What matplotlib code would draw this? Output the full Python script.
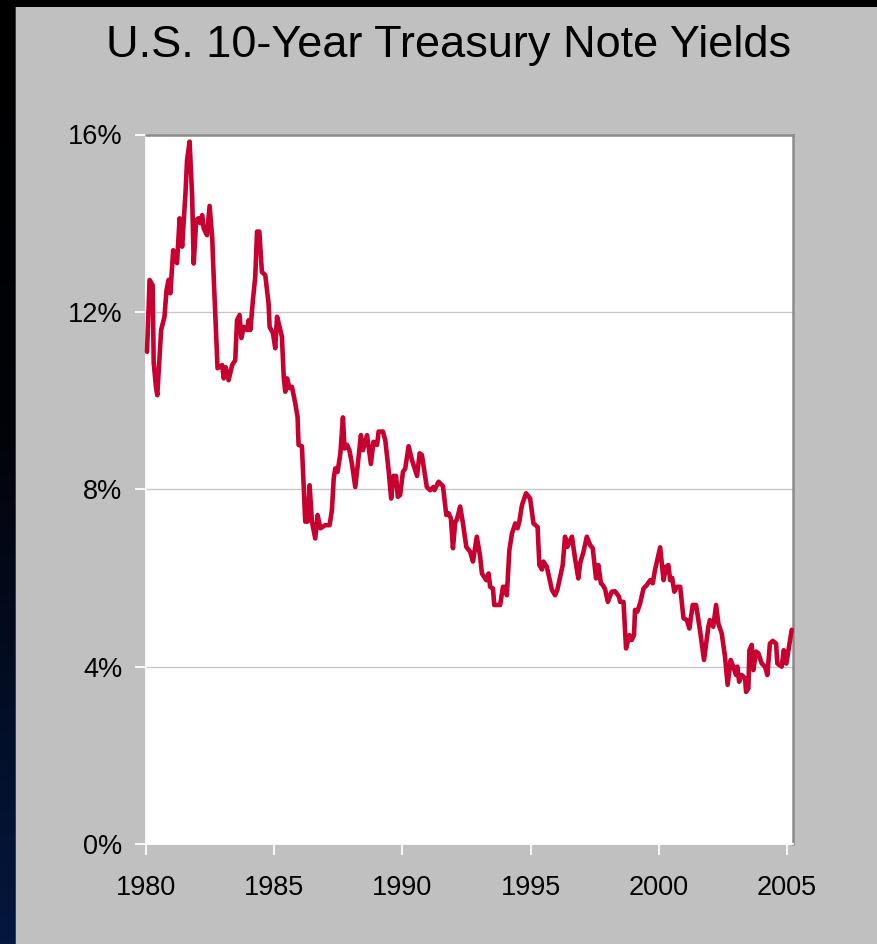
import numpy as np
import matplotlib
matplotlib.use("Agg")
import matplotlib.pyplot as plt
from matplotlib.patches import Rectangle
from matplotlib.colors import LinearSegmentedColormap
from matplotlib.ticker import FuncFormatter

plt.rcParams['font.family'] = ['Liberation Sans', 'DejaVu Sans']

TITLE = "U.S. 10-Year Treasury Note Yields"

# Weekly-ish 10-year note yields (decimal year, percent)
years = [
    1980.04, 1980.14, 1980.26, 1980.30, 1980.39, 1980.44, 1980.59, 1980.72, 1980.80, 1980.88,
    1980.95, 1981.06, 1981.21, 1981.31, 1981.41, 1981.54, 1981.60, 1981.70, 1981.80, 1981.86,
    1981.96, 1982.05, 1982.12, 1982.19, 1982.25, 1982.38, 1982.48, 1982.58, 1982.64, 1982.79,
    1982.97, 1983.03, 1983.11, 1983.22, 1983.36, 1983.48, 1983.55, 1983.65, 1983.72, 1983.81,
    1983.94, 1984.00, 1984.07, 1984.17, 1984.26, 1984.33, 1984.42, 1984.52, 1984.65, 1984.78,
    1984.82, 1984.95, 1985.04, 1985.11, 1985.21, 1985.30, 1985.37, 1985.43, 1985.50, 1985.60,
    1985.69, 1985.82, 1985.91, 1985.95, 1986.08, 1986.21, 1986.30, 1986.38, 1986.47, 1986.60,
    1986.69, 1986.80, 1986.99, 1987.16, 1987.25, 1987.32, 1987.38, 1987.47, 1987.58, 1987.68,
    1987.74, 1987.84, 1987.93, 1988.03, 1988.16, 1988.25, 1988.38, 1988.46, 1988.62, 1988.77,
    1988.87, 1989.01, 1989.07, 1989.24, 1989.33, 1989.46, 1989.56, 1989.65, 1989.75, 1989.82,
    1989.91, 1990.02, 1990.11, 1990.24, 1990.37, 1990.57, 1990.67, 1990.76, 1990.95, 1991.08,
    1991.21, 1991.25, 1991.41, 1991.58, 1991.71, 1991.80, 1991.89, 1991.97, 1992.06, 1992.12,
    1992.25, 1992.36, 1992.49, 1992.64, 1992.75, 1992.90, 1993.03, 1993.10, 1993.27, 1993.36,
    1993.42, 1993.53, 1993.58, 1993.81, 1993.92, 1994.01, 1994.07, 1994.17, 1994.27, 1994.40,
    1994.49, 1994.56, 1994.66, 1994.82, 1994.98, 1995.11, 1995.27, 1995.34, 1995.44, 1995.50,
    1995.63, 1995.83, 1995.95, 1996.04, 1996.25, 1996.34, 1996.43, 1996.54, 1996.61, 1996.73,
    1996.86, 1996.93, 1997.06, 1997.19, 1997.32, 1997.42, 1997.55, 1997.64, 1997.74, 1997.81,
    1997.90, 1998.01, 1998.16, 1998.29, 1998.44, 1998.49, 1998.62, 1998.72, 1998.85, 1998.94,
    1999.03, 1999.07, 1999.16, 1999.27, 1999.40, 1999.53, 1999.66, 1999.76, 1999.85, 2000.05,
    2000.18, 2000.28, 2000.37, 2000.44, 2000.52, 2000.60, 2000.70, 2000.83, 2000.96, 2001.09,
    2001.19, 2001.32, 2001.45, 2001.60, 2001.76, 2001.93, 2001.99, 2002.12, 2002.23, 2002.32,
    2002.45, 2002.58, 2002.68, 2002.80, 2002.90, 2003.01, 2003.06, 2003.13, 2003.23, 2003.36,
    2003.40, 2003.49, 2003.53, 2003.62, 2003.68, 2003.79, 2003.88, 2004.01, 2004.14, 2004.23,
    2004.33, 2004.44, 2004.57, 2004.62, 2004.79, 2004.87, 2004.97, 2005.18,
]
yields = [
    11.10, 12.72, 12.60, 10.85, 10.30, 10.12, 11.59, 11.89, 12.49, 12.72,
    12.42, 13.39, 13.10, 14.11, 13.47, 14.68, 15.42, 15.84, 14.60, 13.09,
    14.07, 14.11, 14.00, 14.18, 13.88, 13.73, 14.39, 13.69, 12.79, 10.73,
    10.80, 10.50, 10.75, 10.46, 10.80, 10.91, 11.81, 11.93, 11.41, 11.66,
    11.59, 11.81, 11.59, 12.27, 12.79, 13.81, 13.81, 12.90, 12.83, 12.19,
    11.66, 11.52, 11.18, 11.89, 11.66, 11.44, 10.54, 10.20, 10.50, 10.28,
    10.31, 9.94, 9.63, 9.00, 8.97, 7.27, 7.27, 8.09, 7.27, 6.89,
    7.42, 7.12, 7.19, 7.19, 7.53, 8.24, 8.47, 8.39, 8.81, 9.62,
    8.92, 9.00, 8.88, 8.58, 8.05, 8.51, 9.22, 8.88, 9.22, 8.57,
    9.07, 9.00, 9.30, 9.30, 9.11, 8.43, 7.79, 8.30, 8.30, 7.83,
    7.87, 8.39, 8.47, 8.97, 8.66, 8.30, 8.81, 8.77, 8.05, 7.98,
    8.05, 7.98, 8.17, 8.07, 7.42, 7.46, 7.34, 6.67, 7.27, 7.31,
    7.61, 7.23, 6.70, 6.59, 6.37, 6.93, 6.48, 6.10, 5.95, 6.10,
    5.80, 5.76, 5.39, 5.39, 5.80, 5.80, 5.61, 6.63, 7.00, 7.23,
    7.12, 7.27, 7.64, 7.91, 7.79, 7.23, 7.15, 6.29, 6.19, 6.37,
    6.25, 5.73, 5.61, 5.73, 6.29, 6.93, 6.70, 6.85, 6.93, 6.44,
    5.99, 6.33, 6.59, 6.93, 6.74, 6.67, 5.99, 6.29, 5.88, 5.84,
    5.75, 5.46, 5.69, 5.70, 5.58, 5.46, 5.46, 4.41, 4.71, 4.60,
    4.71, 5.28, 5.24, 5.43, 5.76, 5.84, 5.95, 5.88, 6.18, 6.69,
    5.95, 6.25, 6.29, 5.95, 6.00, 5.69, 5.80, 5.80, 5.09, 5.05,
    4.86, 5.39, 5.39, 4.83, 4.15, 4.90, 5.05, 4.90, 5.39, 4.97,
    4.75, 4.22, 3.59, 4.15, 4.00, 3.81, 4.00, 3.66, 3.81, 3.74,
    3.43, 3.51, 4.37, 4.49, 3.92, 4.34, 4.30, 4.07, 4.00, 3.81,
    4.52, 4.58, 4.52, 4.07, 4.00, 4.37, 4.07, 4.83,
]

x_ticks = [1980, 1985, 1990, 1995, 2000, 2005]
y_ticks = [0, 4, 8, 12, 16]

W, H = 878, 944
fig = plt.figure(figsize=(W / 100, H / 100), dpi=100, facecolor='black')

# dark left strip fading into navy toward the bottom
strip = fig.add_axes([0, 0, 16 / W, 1], zorder=-5)
strip.set_axis_off()
grad_cmap = LinearSegmentedColormap.from_list(
    'strip', [(0.0, '#000000'), (0.45, '#010308'), (1.0, '#04173f')])
strip.imshow(np.linspace(0, 1, 256)[:, None], aspect='auto', cmap=grad_cmap,
             extent=[0, 1, 1, 0])
strip.set_xlim(0, 1)
strip.set_ylim(1, 0)

# grey slide panel
fig.patches.append(Rectangle((15 / W, 0), 1, (H - 7) / H, transform=fig.transFigure,
                             facecolor='#3c3c3c', edgecolor='none', zorder=-4))
fig.patches.append(Rectangle((16.5 / W, 0), 1, (H - 7) / H, transform=fig.transFigure,
                             facecolor='#c0c0c0', edgecolor='none', zorder=-3))

fig.text(449 / W, 1 - 46 / H, TITLE, ha='center', va='center',
         fontsize=32.5, color='black')

ax = fig.add_axes([146 / W, 1 - 844 / H, (793 - 146) / W, (844 - 134.5) / H])
ax.set_facecolor('white')
ax.plot(years, yields, color='#c8002f', lw=3.3, solid_joinstyle='round',
        solid_capstyle='round', zorder=3, clip_on=False)

ax.set_xlim(1980, 2005.23)
ax.set_ylim(0, 16)
ax.set_xticks(x_ticks)
ax.set_yticks(y_ticks)
ax.yaxis.set_major_formatter(FuncFormatter(lambda v, p: f"{v:.0f}%"))
ax.grid(axis='y', color='#c8c8c8', lw=1.0, zorder=1)
ax.set_axisbelow(True)

for side in ('left', 'bottom'):
    ax.spines[side].set_color('white')
    ax.spines[side].set_linewidth(1.3)
for side in ('top', 'right'):
    ax.spines[side].set_color('#8c8c8c')
    ax.spines[side].set_linewidth(1.8)

ax.tick_params(axis='both', direction='out', length=8, width=1.3, color='white',
               labelsize=19.5, labelcolor='black')
ax.tick_params(axis='y', pad=9)
ax.tick_params(axis='x', pad=14)

fig.savefig('out.png', dpi=100, facecolor=fig.get_facecolor())
